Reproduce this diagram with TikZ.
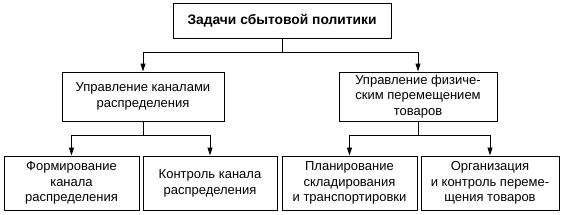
\documentclass[tikz,border=0pt]{standalone}
\usepackage{fontspec}
\setmainfont{Liberation Sans}
\usetikzlibrary{arrows.meta}
\begin{document}
\begin{tikzpicture}[x=1pt,y=-1pt,
  box/.style={draw,line width=0.9pt,align=center,inner sep=0pt,font=\fontsize{13}{15.8}\selectfont},
  conn/.style={line width=0.9pt},
  arr/.style={conn,-{Triangle[length=8pt,width=5pt]}}]
\useasboundingbox (0,0) rectangle (561,214);
\node[box,minimum width=218pt,minimum height=35pt,font=\bfseries\fontsize{13.8}{16}\selectfont] (top) at (282,20.5) {Задачи сбытовой политики};
\node[box,minimum width=162pt,minimum height=49pt] (m1) at (143,96.5) {Управление каналами\\распределения};
\node[box,minimum width=158pt,minimum height=49pt] (m2) at (418,96.5) {Управление физиче-\\ским перемещением\\товаров};
\node[box,minimum width=135pt,minimum height=54pt] (b1) at (71.5,183) {Формирование\\канала\\распределения};
\node[box,minimum width=134pt,minimum height=54pt] (b2) at (210,183) {Контроль канала\\распределения};
\node[box,minimum width=135pt,minimum height=54pt] (b3) at (349.5,183) {Планирование\\складирования\\и транспортировки};
\node[box,minimum width=138pt,minimum height=54pt] (b4) at (490,183) {Организация\\и контроль переме-\\щения товаров};
\coordinate (j0) at (top.south |- 0,52);
\coordinate (j1) at (m1.south |- 0,135);
\coordinate (j2) at (m2.south |- 0,135);
\draw[conn] (top.south) -- (j0);
\draw[arr] (j0) -| (m1.north);
\draw[arr] (j0) -| (m2.north);
\draw[conn] (m1.south) -- (j1);
\draw[arr] (j1) -| (b1.north);
\draw[arr] (j1) -| (b2.north);
\draw[conn] (m2.south) -- (j2);
\draw[arr] (j2) -| (b3.north);
\draw[arr] (j2) -| (b4.north);
\end{tikzpicture}
\end{document}
